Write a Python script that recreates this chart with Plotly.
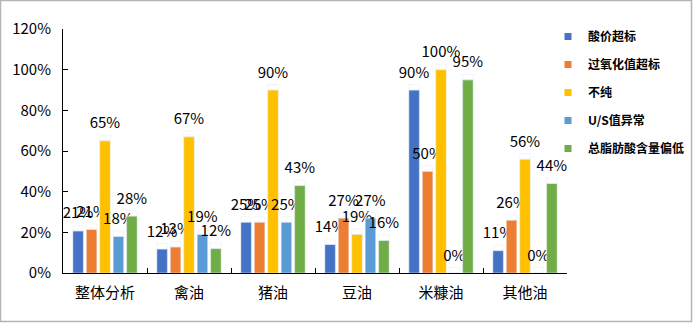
import plotly.graph_objects as go

# Oil categories and defect rates per inspection item
categories = ["整体分析", "禽油", "猪油", "豆油", "米糠油", "其他油"]
series_names = ["酸价超标", "过氧化值超标", "不纯", "U/S值异常", "总脂肪酸含量偏低"]
acid_value = [0.207, 0.118, 0.25, 0.14, 0.90, 0.11]
peroxide_value = [0.214, 0.128, 0.25, 0.27, 0.50, 0.26]
impurity = [0.65, 0.67, 0.90, 0.19, 1.00, 0.56]
us_ratio = [0.18, 0.19, 0.25, 0.27, 0.00, 0.00]
total_fatty_acid = [0.28, 0.12, 0.43, 0.16, 0.95, 0.44]

y_tick_values = [0, 0.2, 0.4, 0.6, 0.8, 1.0, 1.2]

series_values = [acid_value, peroxide_value, impurity, us_ratio, total_fatty_acid]
colors = ["#4472C4", "#ED7D31", "#FFC000", "#5B9BD5", "#70AD47"]

FONT = "Noto Sans CJK SC, Noto Sans, sans-serif"
LABEL_LIFT = 0.027  # transparent spacer that lifts value labels above each bar

fig = go.Figure()
for i, (name, vals, col) in enumerate(zip(series_names, series_values, colors)):
    grp = f"g{i}"
    fig.add_trace(go.Bar(
        x=categories, y=vals, name=name, marker_color=col,
        offsetgroup=grp, legendgroup=grp, showlegend=False,
    ))
    # spacer bar on top of each bar, carrying the value label outside
    fig.add_trace(go.Bar(
        x=categories, y=[LABEL_LIFT] * len(vals), base=vals,
        marker_color="rgba(0,0,0,0)", offsetgroup=grp, legendgroup=grp,
        showlegend=False, hoverinfo="skip",
        text=[f"{v:.0%}" for v in vals], textposition="outside",
        constraintext="none", cliponaxis=False,
        textfont=dict(family=FONT, size=15, color="#000000"),
    ))
    # legend entry with a small square swatch
    fig.add_trace(go.Scatter(
        x=[None], y=[None], mode="markers", name=name,
        marker=dict(symbol="square", size=7, color=col),
        legendgroup=grp, showlegend=True,
    ))

fig.update_layout(
    width=693, height=324,
    margin=dict(l=63, r=126, t=29, b=51, autoexpand=False),
    paper_bgcolor="white", plot_bgcolor="white",
    barmode="group", bargap=0.2, bargroupgap=0.22,
    font=dict(family=FONT, size=15, color="#000000"),
    showlegend=True,
    legend=dict(
        xref="container", yref="container",
        x=548 / 693, xanchor="left", y=1 - 22 / 324, yanchor="top",
        font=dict(family=FONT, size=12, color="#000000", weight="bold"),
        tracegroupgap=9, itemwidth=30, bgcolor="rgba(0,0,0,0)",
    ),
    shapes=[dict(
        type="rect", xref="paper", yref="paper",
        x0=-62.5 / 504, x1=628.5 / 504, y0=-48.5 / 244, y1=28.5 / 244 + 1,
        line=dict(color="#b4b4b4", width=1.5), layer="below",
    )],
)

fig.update_xaxes(
    type="category", showline=True, linecolor="#000000", linewidth=1,
    ticks="inside", tickson="boundaries", ticklen=5, tickcolor="#000000",
    showgrid=False, tickfont=dict(family=FONT, size=15), ticklabelstandoff=6,
)
fig.update_yaxes(
    range=[0, 1.2], tickvals=y_tick_values, tickformat=".0%",
    showline=True, linecolor="#000000", linewidth=1,
    ticks="inside", ticklen=5, tickcolor="#000000",
    showgrid=False, zeroline=False, tickfont=dict(family=FONT, size=15),
    ticklabelstandoff=8,
)

fig.write_html("out.html")
